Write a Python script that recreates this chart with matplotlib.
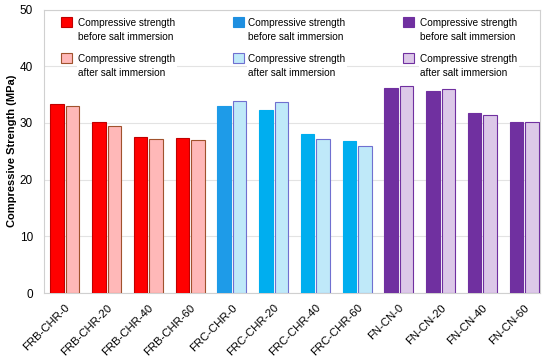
import matplotlib.pyplot as plt
import numpy as np
from matplotlib.patches import Rectangle

plt.rcParams['font.family'] = ['Liberation Sans', 'DejaVu Sans']

# categorias e valores (MPa)
labels = ['FRB-CHR-0', 'FRB-CHR-20', 'FRB-CHR-40', 'FRB-CHR-60',
          'FRC-CHR-0', 'FRC-CHR-20', 'FRC-CHR-40', 'FRC-CHR-60',
          'FN-CN-0', 'FN-CN-20', 'FN-CN-40', 'FN-CN-60']
before = [33.3, 30.2, 27.6, 27.3, 32.9, 32.2, 28.1, 26.8, 36.2, 35.6, 31.8, 30.1]
after = [33.0, 29.5, 27.2, 27.0, 33.8, 33.7, 27.2, 26.0, 36.5, 35.9, 31.4, 30.1]
legend_text = ['Compressive strength\nbefore salt immersion',
               'Compressive strength\nafter salt immersion']

# cores por grupo (4 barras cada)
group_before_fc = ['#FF0000', '#1E9BE8', '#7030A0']
group_before_ec = ['#C00000', '#1E9BE8', '#7030A0']
group_after_fc = ['#FFB8B8', '#BFE9F9', '#DCC8E8']
group_after_ec = ['#A0522D', '#7070D0', '#7030A0']

before_fc = [c for c in group_before_fc for _ in range(4)]
before_ec = [c for c in group_before_ec for _ in range(4)]
after_fc = [c for c in group_after_fc for _ in range(4)]
after_ec = [c for c in group_after_ec for _ in range(4)]
before_fc[5] = before_ec[5] = before_fc[6] = before_ec[6] = before_fc[7] = before_ec[7] = '#00AEEF'

W, H = 550, 362
fig = plt.figure(figsize=(W / 100, H / 100), dpi=100)
ax = fig.add_axes([44 / W, 1 - 293 / H, (540 - 44) / W, (293 - 9.5) / H])

x = np.arange(len(labels))
w = 0.32
off = 0.185
ax.bar(x - off, before, w, color=before_fc, edgecolor=before_ec, linewidth=0.8, zorder=3)
ax.bar(x + off, after, w, color=after_fc, edgecolor=after_ec, linewidth=0.8, zorder=3)

ax.set_xlim(-0.5, 11.38)
ax.set_ylim(0, 50)
ax.set_yticks([0, 10, 20, 30, 40, 50])
ax.grid(axis='y', color='#E3E3E3', linewidth=0.8, zorder=0)
ax.set_xticks(x)
ax.set_xticklabels(labels, rotation=45, ha='right', rotation_mode='anchor', fontsize=8.2)
ax.tick_params(axis='y', labelsize=8.5, length=0, pad=8)
ax.tick_params(axis='x', length=0, pad=7)
for s in ax.spines.values():
    s.set_color('#D0D0D0')
ax.set_ylabel('Compressive Strength (MPa)', fontsize=8, fontweight='bold', labelpad=2)

# legenda manual: 3 colunas x 2 linhas
hx = [61, 233, 403]
tx = [78, 248, 420]
hy = [17, 53]
for i in range(3):
    for j in range(2):
        fc = group_before_fc[i] if j == 0 else group_after_fc[i]
        ec = group_before_ec[i] if j == 0 else group_after_ec[i]
        if i == 1 and j == 0:
            fc = ec = '#1E8FE0'
        fig.add_artist(Rectangle((hx[i] / W, 1 - (hy[j] + 10) / H), 10.5 / W, 10 / H,
                                 transform=fig.transFigure, facecolor=fc, edgecolor=ec,
                                 linewidth=0.8, zorder=6))
        fig.text(tx[i] / W, 1 - (hy[j] + 1) / H, legend_text[j], fontsize=7.2,
                 va='top', ha='left', linespacing=1.5, zorder=6,
                 bbox=dict(facecolor='white', edgecolor='none', pad=1))

plt.savefig('out.png', dpi=100)
